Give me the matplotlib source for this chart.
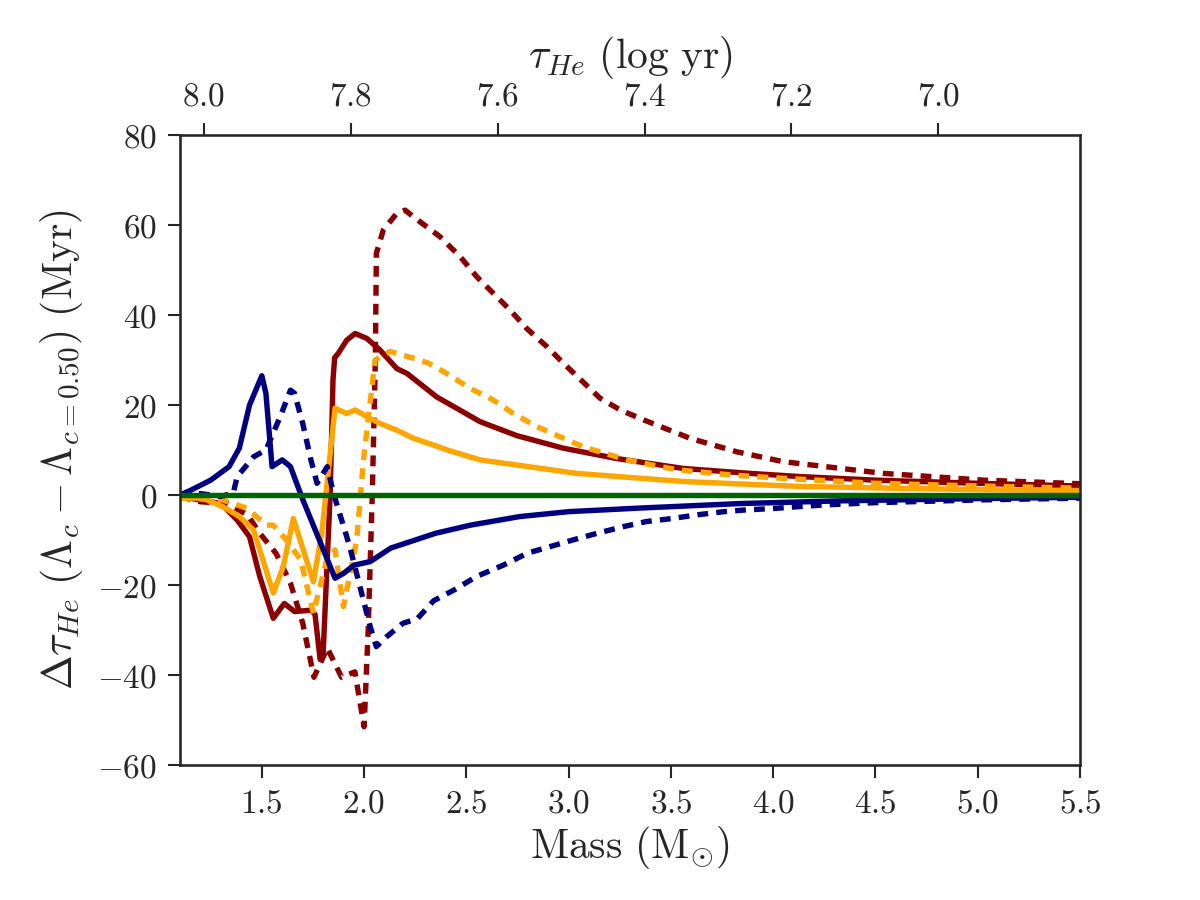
import matplotlib
matplotlib.use('Agg')
import matplotlib.pyplot as plt

plt.rcParams['mathtext.fontset'] = 'cm'
plt.rcParams['font.family'] = 'serif'
plt.rcParams['font.serif'] = ['DejaVu Serif']

# masses (Msun) and delta tau_He (Myr)
navy_solid_m = [1.10, 1.15, 1.25, 1.34, 1.39, 1.44, 1.50, 1.52, 1.55, 1.60, 1.64, 1.70,
                1.858, 1.90, 1.95, 2.03, 2.13, 2.35, 2.52, 2.76, 3.00, 3.35, 3.84, 4.33,
                5.00, 5.50]
navy_solid_v = [0.0, 1.0, 3.3, 6.3, 10.4, 20.0, 26.5, 22.6, 6.3, 7.8, 6.3, -1.0,
                -18.5, -17.4, -15.6, -14.8, -11.8, -8.5, -6.7, -4.8, -3.7, -2.9, -1.9, -1.3,
                -0.8, -0.5]

navy_dash_m = [1.10, 1.20, 1.30, 1.36, 1.38, 1.46, 1.52, 1.59, 1.64, 1.66, 1.70, 1.74,
               1.77, 1.82, 1.85, 1.90, 1.93, 1.98, 2.03, 2.06, 2.11, 2.19, 2.26, 2.34,
               2.44, 2.55, 2.68, 2.80, 2.90, 3.02, 3.14, 3.27, 3.38, 3.51, 3.63, 3.76,
               3.87, 4.00, 4.12, 4.25, 4.50, 5.00, 5.50]
navy_dash_v = [0.0, 0.3, -0.3, 0.4, 4.1, 8.5, 10.0, 17.4, 23.3, 22.6, 15.9, 7.8,
               2.6, 6.3, 0.4, -7.0, -11.5, -20.4, -29.3, -33.7, -31.5, -28.5, -27.5, -23.5,
               -21.1, -18.1, -15.6, -12.9, -11.6, -10.0, -8.5, -7.0, -5.9, -5.2, -4.4, -3.7,
               -3.3, -3.0, -2.6, -2.2, -1.7, -1.1, -0.7]

red_solid_m = [1.10, 1.20, 1.30, 1.38, 1.44, 1.49, 1.556, 1.61, 1.66, 1.74, 1.76, 1.785,
               1.80, 1.834, 1.848, 1.856, 1.874, 1.915, 1.956, 2.013, 2.078, 2.16, 2.21,
               2.355, 2.567, 2.746, 2.974, 3.235, 3.561, 3.887, 4.13, 4.50, 5.00, 5.50]
red_solid_v = [-0.4, -1.1, -1.9, -5.6, -9.3, -18.1, -27.4, -24.1, -25.9, -25.6, -26.5, -36.5,
               -35.0, 0.0, 25.6, 30.5, 31.5, 34.4, 35.9, 34.8, 32.2, 28.1, 27.0,
               21.8, 16.3, 13.2, 10.4, 8.1, 5.9, 4.8, 4.1, 3.3, 2.6, 2.0]

red_dash_m = [1.10, 1.20, 1.33, 1.43, 1.49, 1.57, 1.64, 1.70, 1.755, 1.82, 1.89, 1.955,
              2.00, 2.02, 2.04, 2.055, 2.06, 2.094, 2.16, 2.20, 2.274, 2.371, 2.469, 2.551,
              2.632, 2.714, 2.795, 2.893, 2.974, 3.154, 3.252, 3.366, 3.594, 3.822, 4.05,
              4.54, 5.03, 5.50]
red_dash_v = [-0.4, -1.5, -1.9, -4.4, -8.5, -13.0, -19.6, -28.5, -40.5, -34.0, -40.5, -39.3,
              -51.5, -30.0, 0.0, 30.0, 53.7, 58.9, 62.6, 63.3, 60.7, 57.4, 53.0, 48.5,
              44.8, 41.1, 37.0, 33.0, 29.3, 21.5, 18.9, 16.7, 12.6, 9.6, 7.4,
              4.8, 3.3, 2.5]

orange_solid_m = [1.10, 1.21, 1.31, 1.39, 1.46, 1.556, 1.605, 1.654, 1.752, 1.793, 1.858,
                  1.915, 1.956, 2.029, 2.078, 2.16, 2.241, 2.339, 2.42, 2.567, 3.04, 3.561,
                  4.13, 4.60, 5.00, 5.50]
orange_solid_v = [-0.7, -0.7, -2.6, -4.8, -7.8, -21.8, -15.9, -5.2, -19.3, -8.5, 19.3,
                  18.1, 18.9, 17.0, 15.9, 14.4, 12.6, 11.1, 9.8, 7.8, 4.8, 3.0,
                  1.9, 1.5, 1.2, 1.0]

orange_dash_m = [1.10, 1.31, 1.43, 1.52, 1.556, 1.62, 1.69, 1.752, 1.817, 1.858, 1.899,
                 1.964, 1.997, 2.029, 2.054, 2.127, 2.241, 2.315, 2.404, 2.518, 2.632,
                 2.73, 2.844, 3.072, 3.284, 3.529, 3.806, 4.05, 4.50, 5.00, 5.50]
orange_dash_v = [-0.7, -1.1, -3.0, -6.7, -6.7, -10.0, -14.4, -26.3, -14.4, -12.2, -24.8,
                 -10.0, 7.8, 20.4, 30.0, 31.9, 30.4, 29.3, 27.0, 23.7, 21.1,
                 18.1, 15.2, 10.7, 7.8, 5.6, 4.4, 3.7, 2.6, 2.0, 1.5]

green_m = [1.10, 5.50]
green_v = [0.0, 0.0]

# top axis: log lifetime labels and the masses they sit at
top_labels = ['8.0', '7.8', '7.6', '7.4', '7.2', '7.0']
top_tick_mass = [1.217, 1.934, 2.655, 3.374, 4.088, 4.807]

x_ticks = [1.5, 2.0, 2.5, 3.0, 3.5, 4.0, 4.5, 5.0, 5.5]
y_ticks = [-60, -40, -20, 0, 20, 40, 60, 80]

fig = plt.figure(figsize=(8, 6), dpi=150)
ax = fig.add_axes([0.15, 0.15, 0.75, 0.70])

lw = 2.6
dash = (2.0, 1.5)
ax.plot(red_solid_m, red_solid_v, color='#8B0000', lw=lw)
ax.plot(red_dash_m, red_dash_v, color='#8B0000', lw=lw, dashes=dash)
ax.plot(orange_solid_m, orange_solid_v, color='#FFA500', lw=lw)
ax.plot(orange_dash_m, orange_dash_v, color='#FFA500', lw=lw, dashes=dash)
ax.plot(navy_solid_m, navy_solid_v, color='#000080', lw=lw)
ax.plot(navy_dash_m, navy_dash_v, color='#000080', lw=lw, dashes=dash)
ax.plot(green_m, green_v, color='#006400', lw=lw)

ax.set_xlim(1.1, 5.5)
ax.set_ylim(-60, 80)

edge = '0.15'
for s in ax.spines.values():
    s.set_linewidth(1.25)
    s.set_color(edge)

ax.set_xticks(x_ticks, labels=[f'${v:.1f}$' for v in x_ticks])
ax.set_yticks(y_ticks, labels=[f'${v}$' for v in y_ticks])
ax.tick_params(direction='out', length=6, width=1.0, color=edge, labelcolor=edge,
               labelsize=16, top=False, right=False, pad=5)
ax.set_xlabel(r'$\mathrm{Mass}\ (\mathrm{M}_{\odot})$', fontsize=20, color=edge, labelpad=2)
ax.set_ylabel(r'$\Delta\tau_{He}\ (\Lambda_c - \Lambda_{c=0.50})\ (\mathrm{Myr})$',
              fontsize=20, color=edge, labelpad=6)

top = ax.twiny()
top.set_xlim(ax.get_xlim())
top.set_xticks(top_tick_mass, labels=[f'${t}$' for t in top_labels])
top.tick_params(direction='out', length=6, width=1.0, color=edge, labelcolor=edge,
                labelsize=16, pad=5)
for s in top.spines.values():
    s.set_visible(False)
top.set_xlabel(r'$\tau_{He}\ (\log\,\mathrm{yr})$', fontsize=20, color=edge, labelpad=6)

fig.savefig('out.png', dpi=150)
